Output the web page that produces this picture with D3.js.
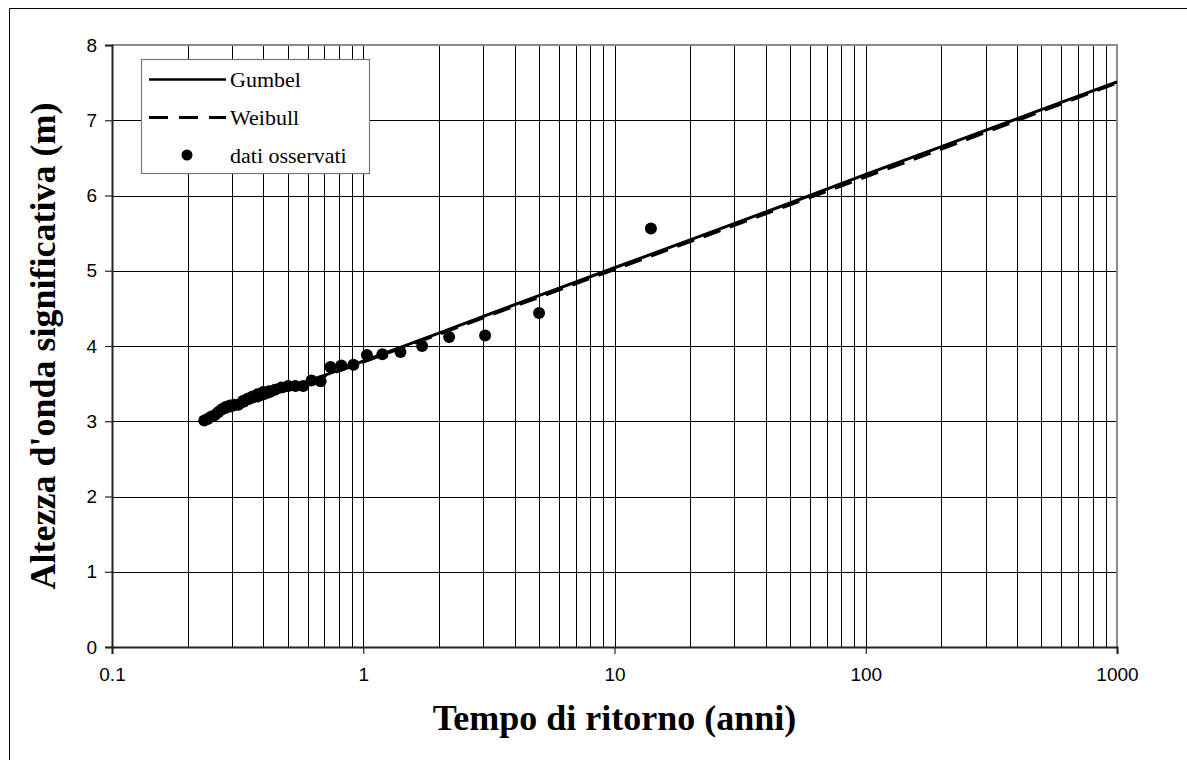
<!DOCTYPE html>
<html><head><meta charset="utf-8">
<script src="https://cdn.jsdelivr.net/npm/d3@7"></script>
<style>body{margin:0;background:#fff}svg{display:block}</style>
</head><body><svg id="c" width="1187" height="760"></svg>
<script>
// Observed data: return period (years) and significant wave height (m)
const obsT = [13.96, 5.01, 3.055, 2.197, 1.715, 1.406, 1.192, 1.034, 0.9136, 0.818, 0.7405, 0.6765, 0.6226,
  0.5767, 0.5371, 0.5026, 0.4722, 0.4453, 0.4213, 0.3998, 0.3804, 0.3627, 0.3466, 0.3319, 0.3184, 0.3059,
  0.2944, 0.2837, 0.2738, 0.2645, 0.2559, 0.2478, 0.2402, 0.2330];
const obsH = [5.56, 4.44, 4.14, 4.12, 4.00, 3.92, 3.89, 3.88, 3.75, 3.74, 3.72, 3.53, 3.54,
  3.47, 3.47, 3.47, 3.45, 3.42, 3.40, 3.39, 3.36, 3.33, 3.30, 3.27, 3.22, 3.22,
  3.21, 3.19, 3.16, 3.12, 3.08, 3.06, 3.03, 3.01];
// Fitted curves
const curveT = [0.233, 0.5, 1, 2, 5, 10, 20, 50, 100, 200, 500, 1000];
const gumbelH = [3.01, 3.43, 3.80, 4.17, 4.67, 5.04, 5.41, 5.90, 6.28, 6.65, 7.14, 7.51];
const weibullH = [3.01, 3.42, 3.79, 4.16, 4.65, 5.02, 5.39, 5.88, 6.25, 6.62, 7.12, 7.50];
const xTicks = [0.1, 1, 10, 100, 1000];
const xTickLabels = ["0.1", "1", "10", "100", "1000"];
const yTicks = [0, 1, 2, 3, 4, 5, 6, 7, 8];
const legendLabels = ["Gumbel", "Weibull", "dati osservati"];
const xTitle = "Tempo di ritorno (anni)";
const yTitle = "Altezza d'onda significativa (m)";

const svg = d3.select("#c");
const L = 112, R = 1117, T = 45, B = 647;
const x = d3.scaleLog().domain([0.1, 1000]).range([L, R]);
const y = d3.scaleLinear().domain([0, 8]).range([B, T]);

// outer frame (only top/left visible)
svg.append("path").attr("d", "M9.5,770V8.5H1200").attr("fill", "none").attr("stroke", "#000").attr("stroke-width", 1);

// grid
const minor = [];
for (let e = -1; e < 3; e++) for (let k = 1; k <= 9; k++) minor.push(k * Math.pow(10, e));
const g = svg.append("g");
g.selectAll(".vg").data(minor.filter(v => v > 0.1 && v < 1000)).enter().append("line")
  .attr("x1", d => Math.round(x(d)) + 0.5).attr("x2", d => Math.round(x(d)) + 0.5)
  .attr("y1", T).attr("y2", B).attr("stroke", "#000").attr("stroke-width", 1);
g.selectAll(".hg").data(yTicks.filter(v => v > 0 && v < 8)).enter().append("line")
  .attr("x1", L).attr("x2", R).attr("y1", d => Math.round(y(d)) + 0.5).attr("y2", d => Math.round(y(d)) + 0.5)
  .attr("stroke", "#000").attr("stroke-width", 1);

// frame top/right gray
svg.append("path").attr("d", `M${L},${T}H${R}V${B}`).attr("fill", "none").attr("stroke", "#8c8c8c").attr("stroke-width", 2);

// axes
const yAxis = d3.axisLeft(y).tickValues(yTicks).tickSize(7).tickPadding(8).tickFormat(d3.format("d"));
const ya = svg.append("g").attr("transform", `translate(${L},0)`).call(yAxis);
const xAxis = d3.axisBottom(x).tickValues(xTicks).tickSize(7).tickPadding(14).tickFormat((d, i) => xTickLabels[i]);
const xa = svg.append("g").attr("transform", `translate(0,${B})`).call(xAxis);
[ya, xa].forEach(a => {
  a.select(".domain").attr("stroke", "#222").attr("stroke-width", 2);
  a.selectAll(".tick line").attr("stroke", "#222").attr("stroke-width", 1.2);
  a.selectAll("text").attr("font-family", "Liberation Sans, Arial, sans-serif").attr("font-size", 19).attr("fill", "#000");
});

// curves
const line = d3.line().x((d, i) => x(curveT[i])).y(d => y(d));
svg.append("path").attr("d", line(weibullH)).attr("fill", "none").attr("stroke", "#000").attr("stroke-width", 3.5).attr("stroke-dasharray", "18,10");
svg.append("path").attr("d", line(gumbelH)).attr("fill", "none").attr("stroke", "#000").attr("stroke-width", 3);

// points
svg.selectAll(".pt").data(obsT).enter().append("circle")
  .attr("cx", d => x(d)).attr("cy", (d, i) => y(obsH[i])).attr("r", 6).attr("fill", "#000");

// legend
const lg = svg.append("g");
lg.append("rect").attr("x", 141.5).attr("y", 59.5).attr("width", 228).attr("height", 114)
  .attr("fill", "#fff").attr("stroke", "#777").attr("stroke-width", 1.2);
lg.append("line").attr("x1", 149).attr("x2", 226).attr("y1", 79.5).attr("y2", 79.5).attr("stroke", "#000").attr("stroke-width", 2.5);
lg.append("line").attr("x1", 149).attr("x2", 226).attr("y1", 117.5).attr("y2", 117.5).attr("stroke", "#000").attr("stroke-width", 3).attr("stroke-dasharray", "19,11");
lg.append("circle").attr("cx", 187).attr("cy", 155).attr("r", 5.5).attr("fill", "#000");
lg.selectAll("text").data(legendLabels).enter().append("text")
  .attr("x", 230).attr("y", (d, i) => 87 + i * 38).text(d => d)
  .attr("font-family", "Liberation Serif, Times New Roman, serif").attr("font-size", 22).attr("fill", "#000");

// titles
svg.append("text").attr("x", (L + R) / 2).attr("y", 730).attr("text-anchor", "middle").text(xTitle)
  .attr("font-family", "Liberation Serif, Times New Roman, serif").attr("font-weight", "bold").attr("font-size", 36);
svg.append("text").attr("transform", `translate(55,${(T + B) / 2}) rotate(-90)`).attr("text-anchor", "middle").text(yTitle)
  .attr("font-family", "Liberation Serif, Times New Roman, serif").attr("font-weight", "bold").attr("font-size", 36);
</script></body></html>
